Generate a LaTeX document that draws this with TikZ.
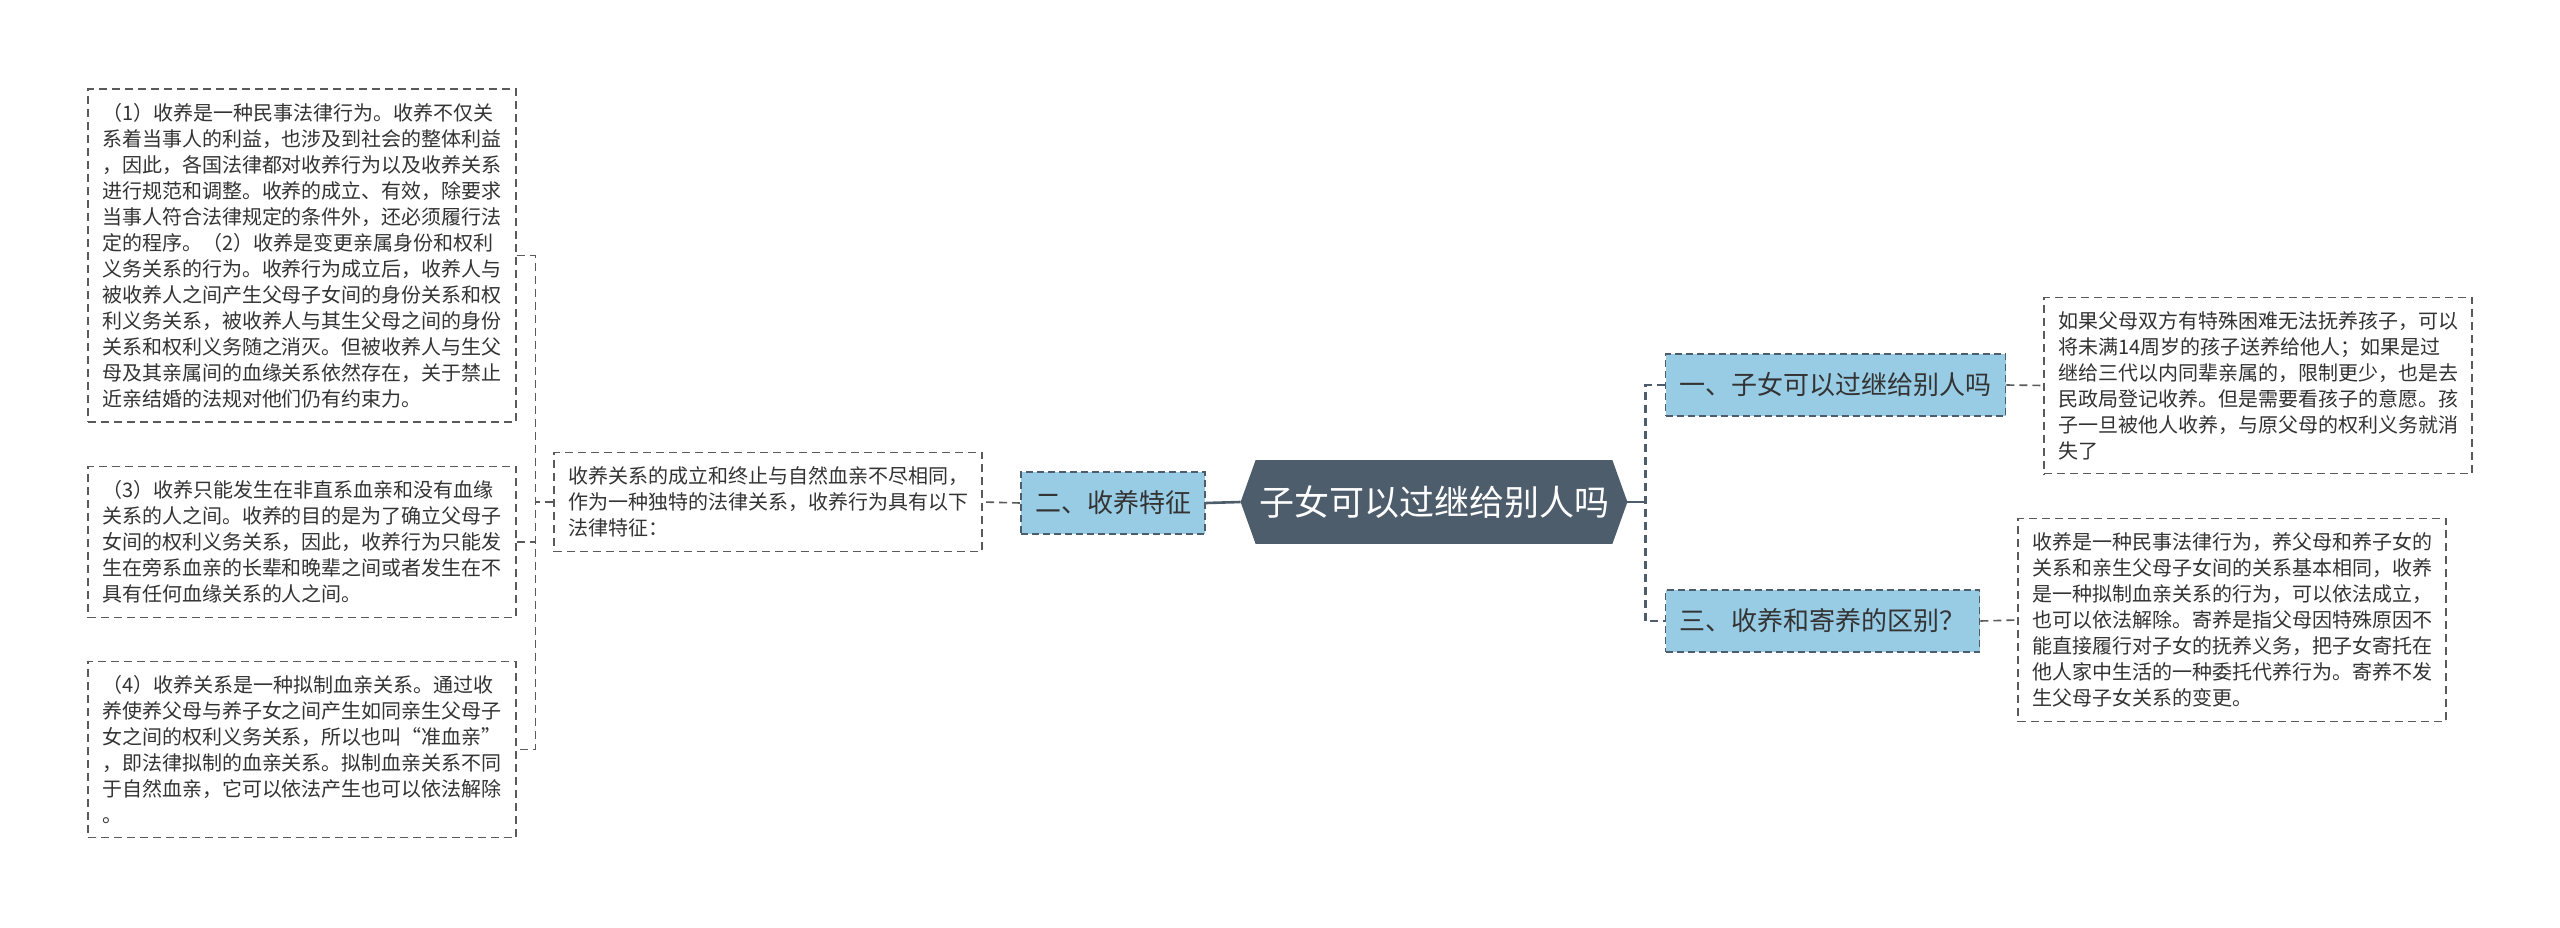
\documentclass[tikz,border=0pt]{standalone}
\usepackage{fontspec}
\newfontfamily\cjk{Noto Sans CJK SC}
\usetikzlibrary{positioning, backgrounds, calc}
\definecolor{colorRaiz}{HTML}{4E5D6C}
\definecolor{azulRama}{HTML}{98CBE4}
\definecolor{grisBorde}{HTML}{5A5A5A}
\definecolor{grisTexto}{HTML}{333333}

\begin{document}
\begin{tikzpicture}[x=0.5pt, y=-0.5pt,
        raiz/.style={text=white, minimum width=193pt, minimum height=41.5pt, inner sep=0pt,
            font=\cjk\fontsize{17.5}{21}\selectfont},
        rama/.style={draw=colorRaiz, fill=azulRama, line width=0.9pt, dash pattern=on 3.5pt off 2pt,
            minimum height=31pt, inner xsep=7pt, inner ysep=0pt, text=grisTexto,
            font=\cjk\fontsize{13}{15}\selectfont},
        nota/.style={draw=grisBorde, line width=0.7pt, dash pattern=on 4pt off 2.5pt,
            text width=200pt, inner xsep=7pt, inner ysep=7pt, align=left, text=grisTexto,
            font=\cjk\fontsize{10}{13}\selectfont},
        solida/.style={draw=colorRaiz, line width=1.3pt},
        troncal/.style={draw=colorRaiz, line width=1.3pt, dash pattern=on 4pt off 2.5pt},
        enlace/.style={draw=grisBorde, line width=0.8pt, dash pattern=on 4pt off 2.5pt}
    ]
        \useasboundingbox (0,0) rectangle (2560,927);

        \node[raiz] (root) at (1434,502) {子女可以过继给别人吗};
        \node[rama] (rama2) at (1113,503) {二、收养特征};
        \node[rama] (rama1) at (1835.5,385) {一、子女可以过继给别人吗};
        \node[rama] (rama3) at (1822.5,621) {三、收养和寄养的区别？};

        \node[nota] (medio) at (768,502) {收养关系的成立和终止与自然血亲不尽相同，\\作为一种独特的法律关系，收养行为具有以下\\法律特征：};
        \node[nota] (izq1) at (302,255.5) {（1）收养是一种民事法律行为。收养不仅关\\系着当事人的利益，也涉及到社会的整体利益\\，因此，各国法律都对收养行为以及收养关系\\进行规范和调整。收养的成立、有效，除要求\\当事人符合法律规定的条件外，还必须履行法\\定的程序。（2）收养是变更亲属身份和权利\\义务关系的行为。收养行为成立后，收养人与\\被收养人之间产生父母子女间的身份关系和权\\利义务关系，被收养人与其生父母之间的身份\\关系和权利义务随之消灭。但被收养人与生父\\母及其亲属间的血缘关系依然存在，关于禁止\\近亲结婚的法规对他们仍有约束力。};
        \node[nota] (izq2) at (302,542) {（3）收养只能发生在非直系血亲和没有血缘\\关系的人之间。收养的目的是为了确立父母子\\女间的权利义务关系，因此，收养行为只能发\\生在旁系血亲的长辈和晚辈之间或者发生在不\\具有任何血缘关系的人之间。};
        \node[nota] (izq3) at (302,749.5) {（4）收养关系是一种拟制血亲关系。通过收\\养使养父母与养子女之间产生如同亲生父母子\\女之间的权利义务关系，所以也叫“准血亲”\\，即法律拟制的血亲关系。拟制血亲关系不同\\于自然血亲，它可以依法产生也可以依法解除\\。};
        \node[nota] (der1) at (2258,385.5) {如果父母双方有特殊困难无法抚养孩子，可以\\将未满14周岁的孩子送养给他人；如果是过\\继给三代以内同辈亲属的，限制更少，也是去\\民政局登记收养。但是需要看孩子的意愿。孩\\子一旦被他人收养，与原父母的权利义务就消\\失了};
        \node[nota] (der2) at (2232,620) {收养是一种民事法律行为，养父母和养子女的\\关系和亲生父母子女间的关系基本相同，收养\\是一种拟制血亲关系的行为，可以依法成立，\\也可以依法解除。寄养是指父母因特殊原因不\\能直接履行对子女的抚养义务，把子女寄托在\\他人家中生活的一种委托代养行为。寄养不发\\生父母子女关系的变更。};

        \begin{scope}[on background layer]
            \fill[white] (0,0) rectangle (2560,927);
            \fill[colorRaiz] (root.west) -- ([xshift=7.5pt]root.north west) -- ([xshift=-7.5pt]root.north east)
                -- (root.east) -- ([xshift=-7.5pt]root.south east) -- ([xshift=7.5pt]root.south west) -- cycle;
        \end{scope}

        \draw[solida] (root.west) -- (rama2.east);
        \draw[enlace] (rama2.west) -- (medio.east);
        \coordinate[left=9pt of medio.west] (ejeIzq);
        \draw[enlace] (medio.west) -- (ejeIzq);
        \draw[enlace] (izq1.east) -| (ejeIzq) |- (izq3.east);
        \draw[enlace] (izq2.east) -- (ejeIzq |- izq2.east);

        \coordinate[right=9pt of root.east] (ejeDer);
        \draw[solida] (root.east) -- (ejeDer);
        \draw[troncal] (rama1.west) -| (ejeDer) |- (rama3.west);
        \draw[enlace] (rama1.east) -- (der1.west);
        \draw[enlace] (rama3.east) -- (der2.west);
    \end{tikzpicture}
\end{document}
